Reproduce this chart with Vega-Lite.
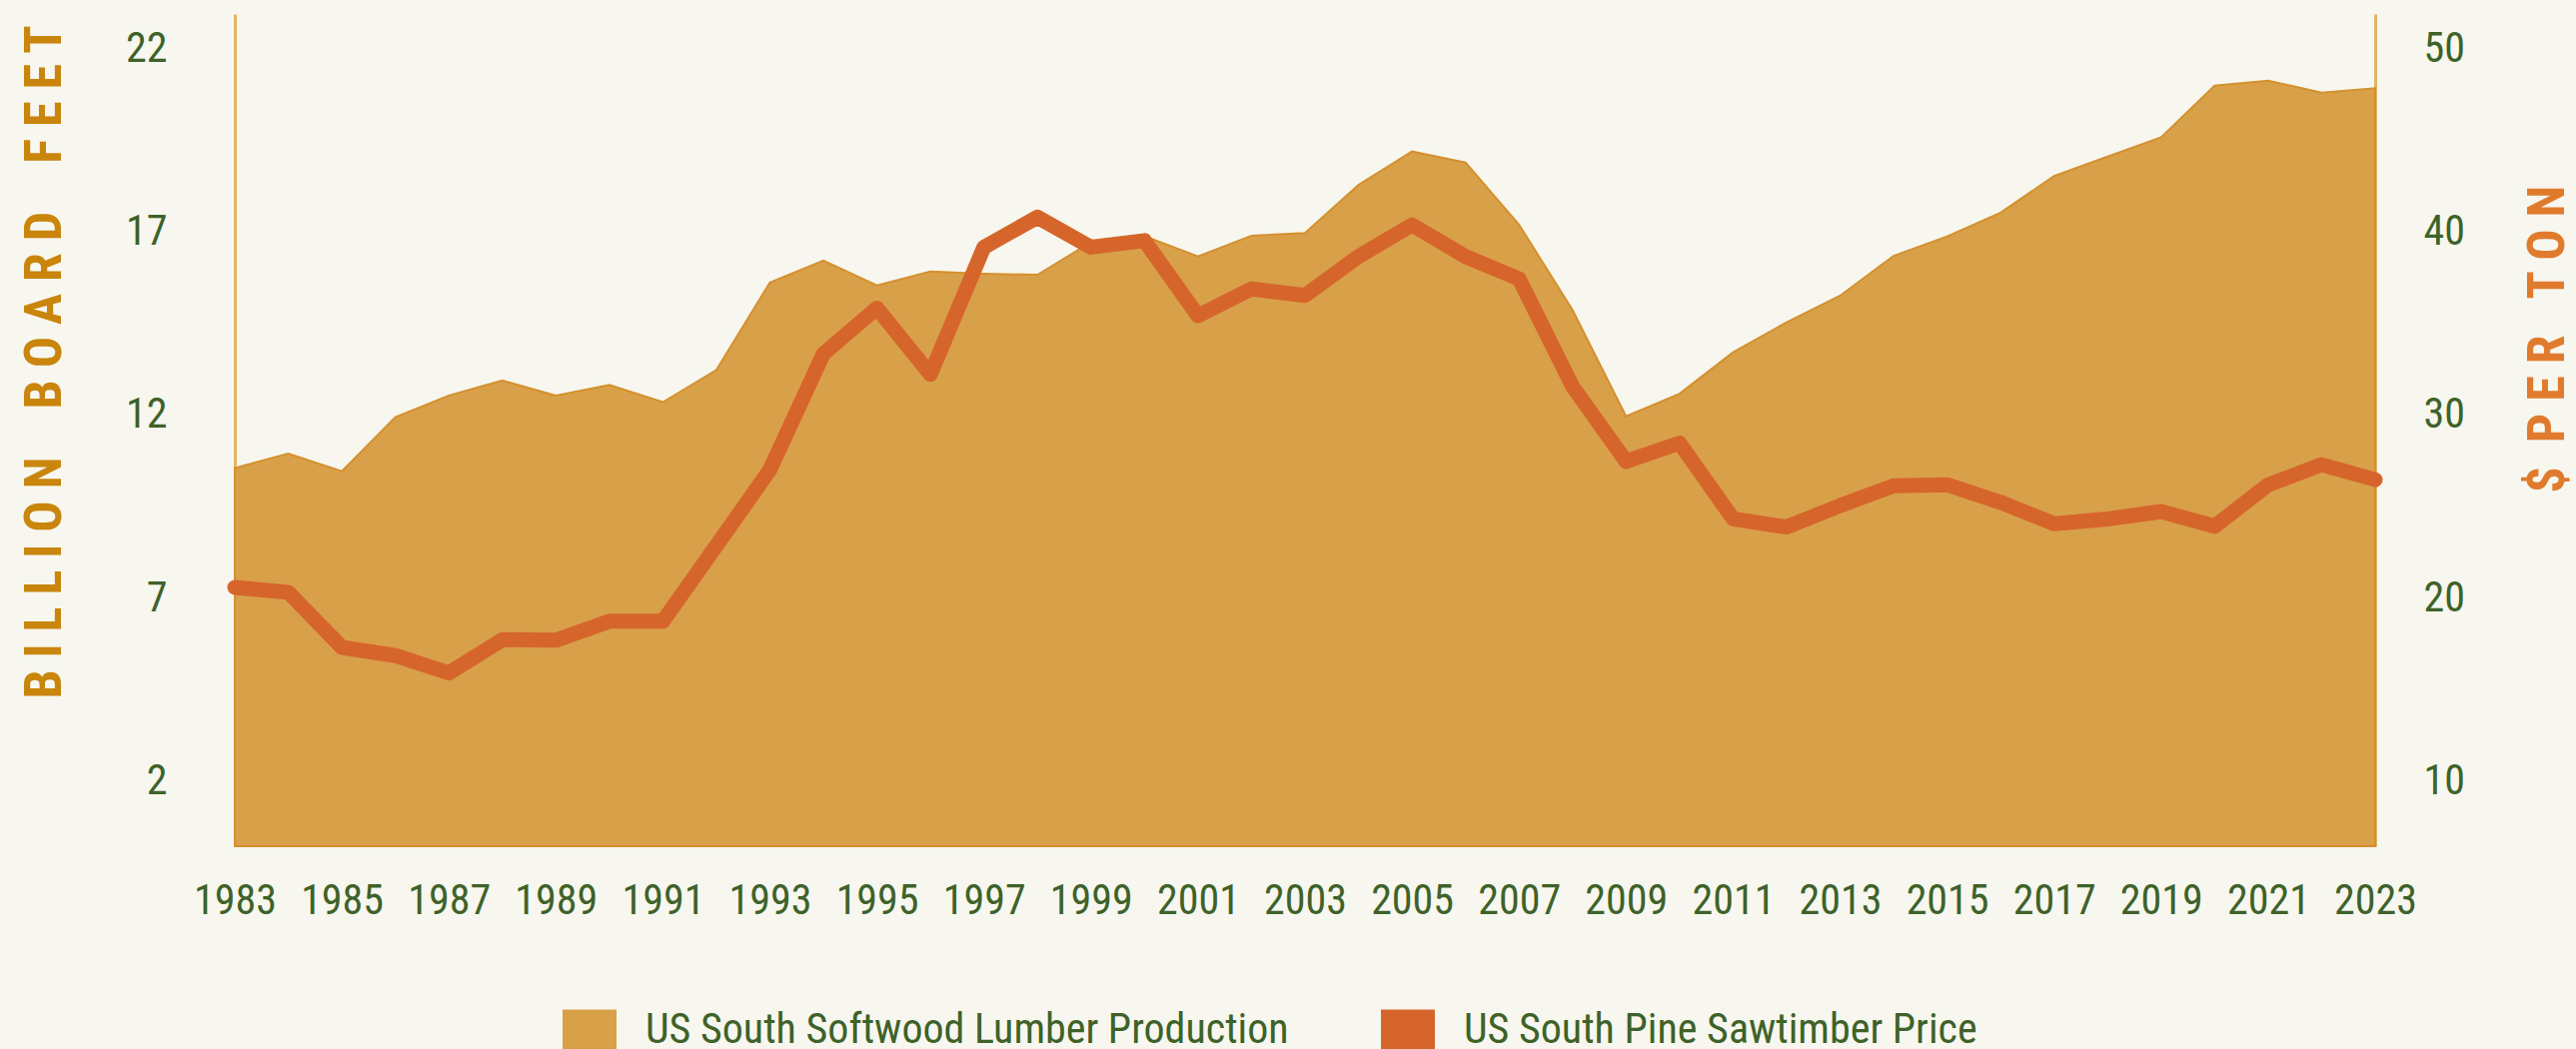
{
  "$schema": "https://vega.github.io/schema/vega-lite/v6.json",
  "autosize": "none",
  "width": 2142,
  "height": 833,
  "padding": {"left": 235, "top": 14, "right": 201, "bottom": 203},
  "background": "#F7F7EF",
  "config": {
    "view": {"stroke": null},
    "font": "Roboto Condensed, Liberation Sans Narrow, Roboto",
    "axis": {"labelFont": "Roboto Condensed, Liberation Sans Narrow, Roboto", "labelFontSize": 42, "labelColor": "#3E6229", "grid": false, "ticks": false, "tickSize": 0},
    "legend": {
      "symbolType": "M-1,-0.76H1V0.76H-1Z", "symbolSize": 2916, "symbolStrokeWidth": 0, "symbolOpacity": 1,
      "labelFont": "Roboto Condensed, Liberation Sans Narrow, Roboto", "labelFontSize": 42, "labelColor": "#3E6229", "labelLimit": 0
    }
  },
  "data": {"values": [
    {"year": 1983, "production": 10.54, "price": 20.55},
    {"year": 1984, "production": 10.93, "price": 20.28},
    {"year": 1985, "production": 10.45, "price": 17.27},
    {"year": 1986, "production": 11.93, "price": 16.82},
    {"year": 1987, "production": 12.52, "price": 15.87},
    {"year": 1988, "production": 12.93, "price": 17.69},
    {"year": 1989, "production": 12.52, "price": 17.66},
    {"year": 1990, "production": 12.81, "price": 18.7},
    {"year": 1991, "production": 12.34, "price": 18.7},
    {"year": 1992, "production": 13.22, "price": 22.83},
    {"year": 1993, "production": 15.61, "price": 26.98},
    {"year": 1994, "production": 16.21, "price": 33.32},
    {"year": 1995, "production": 15.53, "price": 35.82},
    {"year": 1996, "production": 15.91, "price": 32.2},
    {"year": 1997, "production": 15.85, "price": 39.15},
    {"year": 1998, "production": 15.82, "price": 40.79},
    {"year": 1999, "production": 16.71, "price": 39.15},
    {"year": 2000, "production": 16.88, "price": 39.51},
    {"year": 2001, "production": 16.32, "price": 35.4},
    {"year": 2002, "production": 16.89, "price": 36.87},
    {"year": 2003, "production": 16.96, "price": 36.51},
    {"year": 2004, "production": 18.28, "price": 38.64},
    {"year": 2005, "production": 19.19, "price": 40.37},
    {"year": 2006, "production": 18.89, "price": 38.64},
    {"year": 2007, "production": 17.19, "price": 37.42},
    {"year": 2008, "production": 14.86, "price": 31.54},
    {"year": 2009, "production": 11.95, "price": 27.44},
    {"year": 2010, "production": 12.57, "price": 28.44},
    {"year": 2011, "production": 13.7, "price": 24.3},
    {"year": 2012, "production": 14.52, "price": 23.85},
    {"year": 2013, "production": 15.25, "price": 25.02},
    {"year": 2014, "production": 16.34, "price": 26.11},
    {"year": 2015, "production": 16.87, "price": 26.16},
    {"year": 2016, "production": 17.52, "price": 25.2},
    {"year": 2017, "production": 18.52, "price": 24.03},
    {"year": 2018, "production": 19.05, "price": 24.29},
    {"year": 2019, "production": 19.58, "price": 24.7},
    {"year": 2020, "production": 20.99, "price": 23.89},
    {"year": 2021, "production": 21.13, "price": 26.16},
    {"year": 2022, "production": 20.8, "price": 27.26},
    {"year": 2023, "production": 20.92, "price": 26.44}
  ]},
  "encoding": {
    "x": {
      "field": "year", "type": "quantitative",
      "scale": {"domain": [1983, 2023], "nice": false, "zero": false},
      "axis": {"title": null, "values": [1983,1985,1987,1989,1991,1993,1995,1997,1999,2001,2003,2005,2007,2009,2011,2013,2015,2017,2019,2021,2023], "format": "d", "domain": false, "labelPadding": 34, "labelFlush": false}
    }
  },
  "layer": [
    {
      "mark": {"type": "area", "stroke": "#D4902E", "strokeWidth": 2, "fillOpacity": 1},
      "encoding": {
        "y": {
          "field": "production", "type": "quantitative",
          "scale": {"domain": [0.2, 22.95], "nice": false, "zero": false},
          "axis": {
            "orient": "left", "values": [2, 7, 12, 17, 22], "labelPadding": 68,
            "domainColor": "#E2B566", "domainWidth": 3,
            "title": "B I L L I O N\u00a0\u00a0\u00a0\u00a0B O A R D\u00a0\u00a0\u00a0\u00a0F E E T",
            "titleFont": "Roboto Condensed, Liberation Sans Narrow, Roboto",
            "titleFontSize": 52, "titleFontWeight": "bold", "titleColor": "#C9850C",
            "titleAngle": -90, "titleAlign": "center", "titleBaseline": "middle",
            "titleX": -191, "titleY": 348, "titleLimit": 0
          }
        },
        "y2": {"datum": 0.2},
        "color": {
          "datum": "US South Softwood Lumber Production",
          "scale": {"domain": ["US South Softwood Lumber Production", "US South Pine Sawtimber Price"], "range": ["#D9A04A", "#D6652B"]},
          "legend": {
            "orient": "none", "legendX": 328, "legendY": 990, "direction": "horizontal",
            "title": null, "labelOffset": 29, "columnPadding": 92,
            "encode": {"symbols": {"update": {
              "fill": {"signal": "datum.value === 'US South Pine Sawtimber Price' ? '#DC7A2E' : '#D9A24B'"},
              "stroke": {"value": "transparent"},
              "opacity": {"value": 1}
            }}}
          }
        }
      }
    },
    {
      "mark": {"type": "line", "strokeWidth": 15, "strokeCap": "round", "strokeJoin": "round"},
      "encoding": {
        "y": {
          "field": "price", "type": "quantitative",
          "scale": {"domain": [6.4, 51.9], "nice": false, "zero": false},
          "axis": {
            "orient": "right", "values": [10, 20, 30, 40, 50], "labelPadding": 48,
            "domainColor": "#E2B566", "domainWidth": 3,
            "title": "$\u00a0\u00a0P E R\u00a0\u00a0\u00a0T O N",
            "titleFont": "Roboto Condensed, Liberation Sans Narrow, Roboto",
            "titleFontSize": 52, "titleFontWeight": "bold", "titleColor": "#E07B2E",
            "titleAngle": -90, "titleAlign": "center", "titleBaseline": "middle",
            "titleX": 172, "titleY": 325, "titleLimit": 0
          }
        },
        "color": {
          "datum": "US South Pine Sawtimber Price",
          "legend": {
            "orient": "none", "legendX": 328, "legendY": 990, "direction": "horizontal",
            "title": null, "labelOffset": 29, "columnPadding": 92,
            "encode": {"symbols": {"update": {
              "fill": {"signal": "datum.value === 'US South Pine Sawtimber Price' ? '#DC7A2E' : '#D9A24B'"},
              "stroke": {"value": "transparent"},
              "opacity": {"value": 1}
            }}}
          }
        }
      }
    }
  ],
  "resolve": {"scale": {"y": "independent"}}
}
